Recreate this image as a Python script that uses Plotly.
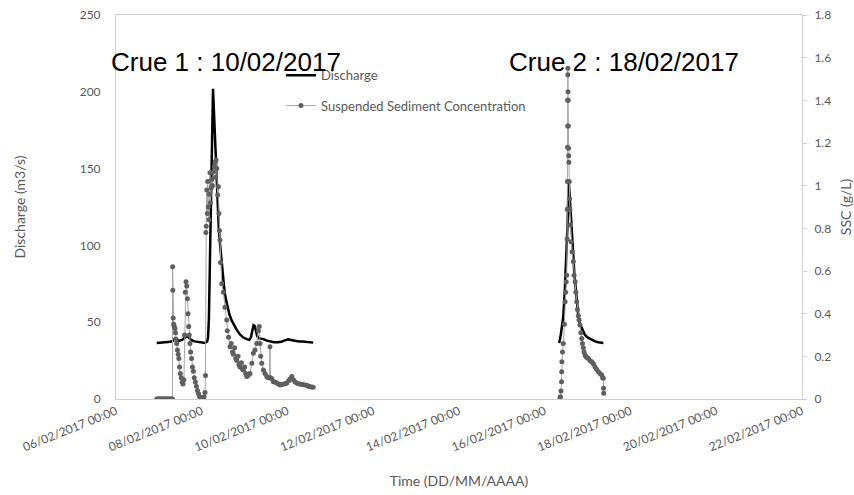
import plotly.graph_objects as go
import pandas as pd

START = pd.Timestamp("2017-02-06 00:00")

# discharge, crue 1 (hours after 06/02/2017 00:00, m3/s)
q1_hours = [22.8, 25.0, 28.0, 30.5, 32.0, 33.0, 34.0, 35.5, 37.0, 38.5, 39.6, 40.8, 42.0, 44.0,
            46.0, 48.0, 49.8, 51.0, 51.5, 52.0, 52.8, 53.3, 53.8, 54.3, 54.9, 55.5, 56.2, 56.8,
            57.5, 58.3, 59.0, 59.7, 60.5, 61.3, 62.3, 63.5, 64.8, 66.0, 67.6, 69.4, 71.3, 73.2,
            74.6, 75.5, 76.3, 77.0, 77.7, 78.3, 79.0, 79.8, 81.0, 82.5, 84.5, 86.5, 88.5, 90.5,
            92.5, 94.5, 96.5, 98.5, 100.5, 102.5, 104.5, 106.5, 108.5, 110.4]
q1_values = [36.5, 36.8, 37.0, 37.2, 38.0, 39.5, 38.5, 38.0, 38.5, 40.0, 41.0, 40.0, 38.5, 37.5,
             37.0, 36.8, 36.5, 37.5, 40, 52, 105, 140, 180, 202, 185, 165, 145, 128,
             112, 100, 90, 82, 73, 66, 60, 55, 51, 48, 45, 42, 40, 39,
             38.5, 40, 44, 48, 47.5, 44, 41, 39.5, 39.3, 39, 38, 37.3, 37, 37,
             37.2, 38.2, 38.8, 38.3, 37.8, 37.4, 37.4, 37.2, 37, 36.7]

# discharge, crue 2
q2_hours = [248.0, 248.2, 249.0, 249.8, 250.4, 251.2, 251.8, 252.3, 252.8, 253.2, 253.5, 253.8,
            254.4, 255.1, 255.8, 256.6, 257.3, 257.9, 258.8, 259.7, 260.7, 261.6, 262.5, 264.4,
            266.3, 268.2, 270.0, 271.5, 272.8]
q2_values = [36.5, 37, 42, 48, 54, 70, 85, 97, 115, 132, 141, 135,
             125, 113, 97, 81, 71, 63, 54, 49, 46, 43.5, 41.7, 39.8,
             38.4, 37.5, 36.9, 36.6, 36.5]

# suspended sediment concentration, crue 1 (g/L)
ssc1_hours = [22.8, 23.3, 23.8, 24.3, 24.8, 25.3, 25.8, 26.3, 26.8, 27.3, 27.8, 28.3, 28.8, 29.3,
              29.8, 30.3, 30.8, 31.3, 31.6, 31.7, 31.8, 32.0, 32.3, 32.6, 33.0, 33.3, 33.6, 34.0,
              34.4, 34.8, 35.2, 35.6, 36.0, 36.5, 37.0, 37.5, 38.0, 38.4, 38.8, 39.2, 39.6, 40.0,
              40.3, 40.7, 41.0, 41.4, 41.8, 42.3, 42.8, 43.3, 43.8, 44.4, 45.0, 45.6, 46.2, 46.8,
              47.3, 47.8, 48.3, 48.8, 49.3, 49.8, 50.1, 50.3, 50.5, 50.8, 51.1, 51.3, 51.7, 52.0,
              52.2, 52.6, 52.9, 53.3, 53.6, 54.0, 54.5, 55.0, 55.4, 55.7, 56.0, 56.4, 56.9, 57.3,
              57.6, 57.9, 58.2, 58.5, 59.2, 60.1, 61.0, 62.0, 62.3, 63.0, 63.8, 64.5, 65.2, 65.7,
              66.4, 67.0, 67.6, 68.3, 68.8, 69.4, 70.2, 70.8, 71.3, 72.0, 72.6, 73.2, 74.0, 75.0,
              76.0, 76.9, 77.8, 78.8, 79.7, 80.2, 80.6, 81.0, 81.6, 82.5, 83.4, 84.4, 85.2, 85.8,
              86.2, 86.5, 87.2, 88.1, 89.0, 90.0, 91.0, 91.8, 92.8, 93.8, 94.7, 95.6, 96.6, 97.5,
              98.4, 99.3, 100.2, 101.1, 102.0, 103.0, 104.0, 104.9, 105.8, 106.8, 107.7, 108.6,
              109.5, 110.4]
ssc1_values = [0, 0, 0, 0, 0, 0, 0, 0, 0, 0, 0, 0, 0, 0,
               0, 0, 0, 0, 0, 0.62, 0.51, 0.38, 0.35, 0.34, 0.33, 0.31, 0.28, 0.26,
               0.23, 0.21, 0.19, 0.15, 0.12, 0.10, 0.08, 0.07, 0.09, 0.30, 0.50, 0.55, 0.53, 0.47,
               0.40, 0.34, 0.30, 0.26, 0.22, 0.19, 0.15, 0.13, 0.10, 0.08, 0.06, 0.04, 0.025, 0.01,
               0.0, 0.0, 0.005, 0.0, 0.01, 0.03, 0.11, 0.78, 0.81, 0.98, 0.87, 1.02, 0.90, 0.84,
               0.96, 1.06, 0.92, 0.99, 1.03, 1.00, 1.065, 1.09, 1.11, 1.04, 1.12, 1.08, 0.956, 0.995,
               0.87, 0.79, 0.745, 0.64, 0.54, 0.50, 0.43, 0.37, 0.32, 0.29, 0.245, 0.26, 0.22, 0.21,
               0.24, 0.19, 0.18, 0.20, 0.16, 0.15, 0.17, 0.14, 0.136, 0.15, 0.12, 0.105, 0.11, 0.12,
               0.167, 0.214, 0.23, 0.26, 0.32, 0.34, 0.26, 0.20, 0.167, 0.136, 0.12, 0.105, 0.10, 0.10,
               0.245, 0.10, 0.095, 0.081, 0.08, 0.075, 0.07, 0.066, 0.068, 0.07, 0.072, 0.075, 0.085, 0.095,
               0.105, 0.09, 0.081, 0.075, 0.072, 0.07, 0.068, 0.067, 0.066, 0.064, 0.06, 0.058,
               0.056, 0.055]

# suspended sediment concentration, crue 2
ssc2_hours = [248.6, 248.7, 249.1, 249.4, 249.5, 249.6, 249.9, 250.4, 251.0, 251.4, 251.7, 252.0,
              252.3, 252.5, 252.6, 252.7, 252.75, 252.8, 252.85, 252.9, 252.95, 253.0, 253.1, 253.2,
              253.3, 253.4, 253.5, 253.7, 253.9, 254.1, 254.4, 254.7, 255.3, 256.0, 256.4, 257.0,
              257.4, 257.9, 258.3, 258.8, 259.2, 259.7, 260.2, 260.7, 261.1, 261.6, 262.0, 262.5,
              263.0, 263.5, 264.4, 265.3, 266.3, 267.2, 268.1, 269.0, 270.0, 270.9, 271.9, 272.4,
              272.8, 272.9, 273.0]
ssc2_values = [0.006, 0.01, 0.037, 0.081, 0.128, 0.175, 0.22, 0.26, 0.35, 0.456, 0.50, 0.55,
               0.58, 0.75, 0.89, 1.02, 1.18, 1.28, 1.40, 1.52, 1.55, 1.44, 1.40, 1.28,
               1.175, 1.14, 1.11, 1.02, 0.94, 0.886, 0.816, 0.737, 0.69, 0.644, 0.58, 0.55,
               0.50, 0.456, 0.42, 0.39, 0.37, 0.347, 0.31, 0.284, 0.26, 0.24, 0.22, 0.206,
               0.20, 0.195, 0.19, 0.18, 0.175, 0.165, 0.151, 0.14, 0.128, 0.12, 0.1125, 0.10,
               0.097, 0.05, 0.027]


def to_time(hours):
    return [START + pd.Timedelta(hours=h) for h in hours]


GREY = "#595959"
FONT = "Lato"

fig = go.Figure()

# SSC first so discharge line sits on top
for i, (h, v) in enumerate([(ssc1_hours, ssc1_values), (ssc2_hours, ssc2_values)]):
    fig.add_trace(go.Scatter(
        x=to_time(h), y=v, yaxis="y2", mode="lines+markers",
        name="Suspended Sediment Concentration", legend="legend2",
        legendgroup="ssc", showlegend=(i == 0),
        line=dict(color="#A6A6A6", width=1),
        marker=dict(color="#5F5F5F", size=5),
    ))

for i, (h, v) in enumerate([(q1_hours, q1_values), (q2_hours, q2_values)]):
    fig.add_trace(go.Scatter(
        x=to_time(h), y=v, mode="lines", name="Discharge", legend="legend",
        legendgroup="q", showlegend=(i == 0),
        line=dict(color="black", width=2.5),
    ))

axis_line = "#D0D0D0"

fig.update_layout(
    width=854, height=495,
    margin=dict(l=116, r=52, t=15, b=96),
    plot_bgcolor="white", paper_bgcolor="white",
    font=dict(family=FONT, size=12, color=GREY),
    xaxis=dict(
        type="date", automargin=False,
        range=[START, START + pd.Timedelta(days=16)],
        tick0=START, dtick=2 * 86400000,
        tickformat="%d/%m/%Y %H:%M", tickangle=-22,
        showgrid=False, zeroline=False,
        showline=True, linecolor=axis_line, mirror=True,
        title=dict(text="Time (DD/MM/AAAA)", standoff=22),
    ),
    yaxis=dict(
        range=[0, 250], dtick=50, automargin=False,
        showgrid=False, zeroline=False,
        showline=True, linecolor=axis_line, mirror=True,
        ticklabelstandoff=12,
        title=dict(text="Discharge (m3/s)", standoff=50),
    ),
    yaxis2=dict(
        overlaying="y", side="right", automargin=False,
        range=[0, 1.8], dtick=0.2,
        showgrid=False, zeroline=False,
        showline=True, linecolor=axis_line,
        ticks="outside", ticklen=4, tickcolor=axis_line,
        ticklabelstandoff=5,
        title=dict(text="SSC (g/L)", standoff=14),
    ),
    legend=dict(x=0.2405, y=0.882, xanchor="left", yanchor="top",
                bgcolor="rgba(0,0,0,0)", font=dict(size=13, color=GREY)),
    legend2=dict(x=0.2405, y=0.803, xanchor="left", yanchor="top",
                 bgcolor="rgba(0,0,0,0)", font=dict(size=13, color=GREY)),
    annotations=[
        dict(text="Crue 1 : 10/02/2017", x=0.160, y=0.878, xref="paper", yref="paper",
             xanchor="center", yanchor="middle", showarrow=False,
             font=dict(family="Liberation Sans", size=26, color="black")),
        dict(text="Crue 2 : 18/02/2017", x=0.740, y=0.878, xref="paper", yref="paper",
             xanchor="center", yanchor="middle", showarrow=False,
             font=dict(family="Liberation Sans", size=26, color="black")),
    ],
)

fig.write_html("out.html", config={"displayModeBar": False},
               post_script="document.body.style.margin='0';")
